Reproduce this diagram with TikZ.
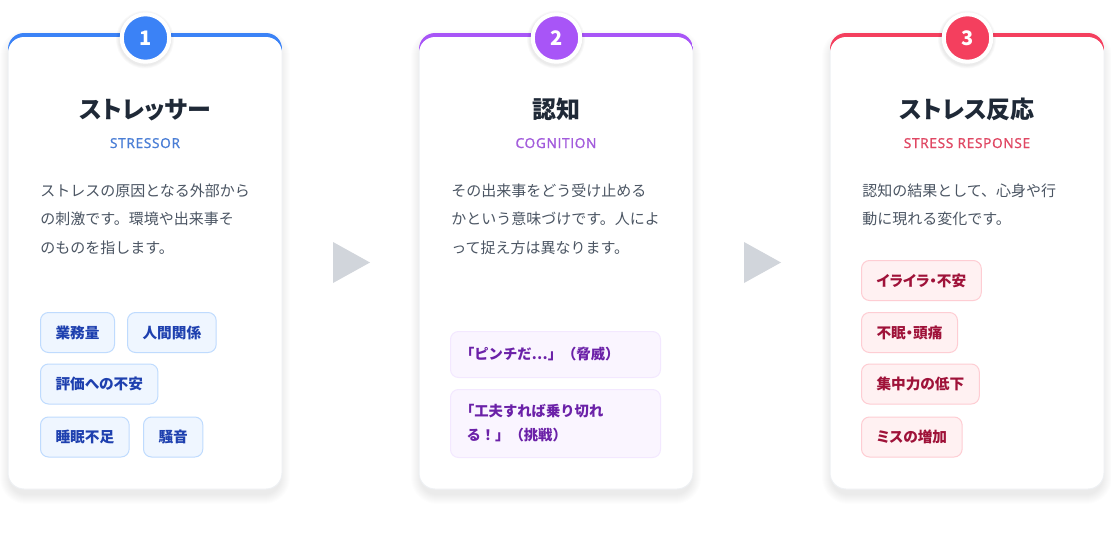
\documentclass[tikz,border=0pt]{standalone}
\usepackage{fontspec}
\setmainfont{Noto Sans CJK JP}
\newfontfamily\jpp[RawFeature=+palt]{Noto Sans CJK JP}
\newfontfamily\lat[LetterSpace=5,FakeBold=1.5]{Open Sans}
\definecolor{blueA}{HTML}{3B82F6}
\definecolor{purpA}{HTML}{A855F7}
\definecolor{roseA}{HTML}{F43F5E}
\definecolor{blueS}{HTML}{4A7ED6}
\definecolor{purpS}{HTML}{A25BDC}
\definecolor{roseS}{HTML}{E04763}
\definecolor{titlec}{HTML}{1F2937}
\definecolor{descc}{HTML}{4B5563}
\definecolor{cardline}{HTML}{EEF0F3}
\definecolor{arrowc}{HTML}{D1D5DB}
\definecolor{tagBf}{HTML}{EFF6FF}
\definecolor{tagBd}{HTML}{BFDBFE}
\definecolor{tagBt}{HTML}{1E40AF}
\definecolor{tagPf}{HTML}{FAF5FF}
\definecolor{tagPd}{HTML}{F3E8FF}
\definecolor{tagPt}{HTML}{6B21A8}
\definecolor{tagRf}{HTML}{FFF1F2}
\definecolor{tagRd}{HTML}{FECDD3}
\definecolor{tagRt}{HTML}{9F1239}
\begin{document}
\begin{tikzpicture}[x=0.75pt,y=-0.75pt,
  badgestyle/.style={circle,fill=#1,draw=white,line width=3pt,minimum size=35.6pt,inner sep=0pt,
    text=white,font=\bfseries\fontsize{15}{15}\selectfont},
  titlestyle/.style={anchor=base,text=titlec,inner sep=0pt,font=\jpp\bfseries\fontsize{18}{18}\selectfont},
  substyle/.style={anchor=base,text=#1,inner sep=0pt,font=\lat\fontsize{10.25}{10.25}\selectfont},
  descstyle/.style={anchor=base west,text=descc,inner sep=0pt,font=\fontsize{11.25}{11.25}\selectfont},
  tagstyle/.style={anchor=west,rounded corners=6pt,line width=0.75pt,minimum height=30pt,
    inner xsep=11.25pt,inner ysep=0pt,font=\jpp\bfseries\fontsize{11}{11}\selectfont},
  tagB/.style={tagstyle,fill=tagBf,draw=tagBd,text=tagBt},
  tagR/.style={tagstyle,fill=tagRf,draw=tagRd,text=tagRt},
  tagP/.style={anchor=north west,rounded corners=6pt,line width=0.75pt,fill=tagPf,draw=tagPd,text=tagPt,
    text width=133.5pt,align=left,inner xsep=12pt,inner ysep=0pt,
    font=\bfseries\fontsize{10.75}{18}\selectfont},
]
\useasboundingbox[fill=white] (0,0) rectangle (1111,539);

\foreach \L/\c/\n in {8/blueA/1,419/purpA/2,830/roseA/3}{
  \foreach \k in {1,...,10}
    \fill[black,opacity=0.009,rounded corners={12pt+\k*0.75pt}] (\L-\k+2,33+7-\k) rectangle (\L+274+\k-2,489+5+\k);
  \fill[white,rounded corners=12pt] (\L,33) rectangle ++(274,456);
  \begin{scope}
    \clip[rounded corners=12pt] (\L,33) rectangle ++(274,456);
    \fill[\c] (\L,33) rectangle ++(274,30);
    \fill[white,rounded corners=12pt] (\L,37) rectangle (\L+274,520);
  \end{scope}
  \draw[cardline,line width=0.75pt,rounded corners=12pt] (\L,50) -- (\L,489) -- (\L+274,489) -- (\L+274,50);
  \foreach \k in {1,...,4}
    \fill[black,opacity=0.02] (\L+137,39.5) circle ({25.75+\k*0.8});
  \node[badgestyle=\c] (badge\n) at (\L+137.5,38) {\n};
}

% arrows between cards
\fill[arrowc] (333,242) -- (370,262.5) -- (333,283) -- cycle;
\fill[arrowc] (744,242) -- (781,262.5) -- (744,283) -- cycle;

% card 1
\node[titlestyle] (t1) at (145,118) {ストレッサー};
\node[substyle=blueS] (s1) at (145,148) {STRESSOR};
\node[descstyle] (d1a) at (40,196) {ストレスの原因となる外部から};
\node[descstyle] (d1b) at (40,224.5) {の刺激です。環境や出来事そ};
\node[descstyle] (d1c) at (40,253) {のものを指します。};
\node[tagB] (g1) at (40,332.5) {業務量};
\node[tagB] (g2) at (127,332.5) {人間関係};
\node[tagB] (g3) at (40,384) {評価への不安};
\node[tagB] (g4) at (40,437) {睡眠不足};
\node[tagB] (g5) at (143,437) {騒音};

% card 2
\node[titlestyle] (t2) at (556,118) {認知};
\node[substyle=purpS] (s2) at (556,148) {COGNITION};
\node[descstyle] (d2a) at (451,196) {その出来事をどう受け止める};
\node[descstyle] (d2b) at (451,224.5) {かという意味づけです。人によ};
\node[descstyle] (d2c) at (451,253) {って捉え方は異なります。};
\node[tagP,minimum height=34.5pt] (p1) at (450,331) {\hspace*{-0.45em}「ピンチだ…」（脅威）};
\node[tagP,minimum height=51pt] (p2) at (450,389) {\hspace*{-0.45em}「工夫すれば乗り切れ\\る！」（挑戦）};

% card 3
\node[titlestyle] (t3) at (967,118) {ストレス反応};
\node[substyle=roseS] (s3) at (967,148) {STRESS RESPONSE};
\node[descstyle] (d3a) at (862,196) {認知の結果として、心身や行};
\node[descstyle] (d3b) at (862,224.5) {動に現れる変化です。};
\node[tagR] (r1) at (861,280.5) {イライラ・不安};
\node[tagR] (r2) at (861,332.5) {不眠・頭痛};
\node[tagR] (r3) at (861,384) {集中力の低下};
\node[tagR] (r4) at (861,437) {ミスの増加};
\end{tikzpicture}
\end{document}
